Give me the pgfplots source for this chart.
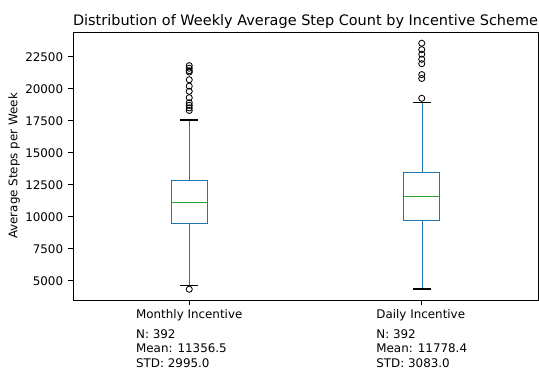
\documentclass[border=0pt]{standalone}
\usepackage{pgfplots}
\pgfplotsset{compat=1.18}
\usepackage{fontspec}
\setmainfont{DejaVu Sans}
\definecolor{mblue}{HTML}{1F77B4}
\definecolor{mgreen}{HTML}{2CA02C}
\begin{document}
\begin{tikzpicture}
\useasboundingbox (-52.56bp,-49.68bp) rectangle (335.52bp,216bp);
\begin{axis}[
  at={(0,0)}, anchor=south west,
  scale only axis, width=334.8bp, height=192.96bp,
  xmin=0.5, xmax=2.5, ymin=3493, ymax=24429,
  axis line style={black, line width=0.6bp},
  xtick={1,2},
  xticklabels={{Monthly Incentive\\[3.6bp]N: 392\\Mean: 11356.5\\STD: 2995.0},{Daily Incentive\\[3.6bp]N: 392\\Mean: 11778.4\\STD: 3083.0}},
  xticklabel style={align=left, font=\fontsize{8.6}{10.4}\selectfont},
  scaled y ticks=false,
  ytick={5000,7500,10000,12500,15000,17500,20000,22500},
  yticklabels={5000,7500,10000,12500,15000,17500,20000,22500},
  yticklabel style={font=\fontsize{8.6}{10}\selectfont},
  tick align=outside, major tick length=3.6bp,
  tick style={black, line width=0.6bp},
  xtick pos=bottom, ytick pos=left,
  title={Distribution of Weekly Average Step Count by Incentive Scheme},
  title style={font=\fontsize{10.45}{12}\selectfont, at={(0.5,1)}, anchor=base, yshift=-1bp},
  ylabel={Average Steps per Week},
  ylabel style={font=\fontsize{8.6}{10}\selectfont, yshift=-3bp},
  clip=false,
]
% Monthly
\addplot[mblue, line width=0.9bp] coordinates {(0.9225,9457) (1.0775,9457) (1.0775,12847) (0.9225,12847) (0.9225,9457)} -- cycle;
\addplot[mblue, line width=0.9bp] coordinates {(1.002,9457) (1.002,4615)};
\addplot[mblue, line width=0.9bp] coordinates {(1.002,12847) (1.002,17556)};
\addplot[mgreen, line width=0.9bp] coordinates {(0.9225,11129) (1.0775,11129)};
\addplot[black, line width=0.9bp] coordinates {(0.961,4615) (1.039,4615)};
\addplot[black, line width=0.9bp] coordinates {(0.961,17556) (1.039,17556)};
\addplot[only marks, mark=o, mark size=2.2bp, black, mark options={line width=0.6bp}] coordinates {
  (1,4334) (1,18300) (1,18500) (1,18700) (1,18900) (1,19300) (1,19800)
  (1,20200) (1,20700) (1,21300) (1,21400) (1,21600) (1,21800)};
% Daily
\addplot[mblue, line width=0.9bp] coordinates {(1.9225,9723) (2.0775,9723) (2.0775,13440) (1.9225,13440) (1.9225,9723)} -- cycle;
\addplot[mblue, line width=0.9bp] coordinates {(2.002,9723) (2.002,4357)};
\addplot[mblue, line width=0.9bp] coordinates {(2.002,13440) (2.002,18907)};
\addplot[mgreen, line width=0.9bp] coordinates {(1.9225,11566) (2.0775,11566)};
\addplot[black, line width=0.9bp] coordinates {(1.961,4357) (2.039,4357)};
\addplot[black, line width=0.9bp] coordinates {(1.961,18907) (2.039,18907)};
\addplot[only marks, mark=o, mark size=2.2bp, black, mark options={line width=0.6bp}] coordinates {
  (2,19250) (2,20800) (2,21100) (2,21950) (2,22300) (2,22700) (2,23050) (2,23550)};
\end{axis}
\end{tikzpicture}
\end{document}
